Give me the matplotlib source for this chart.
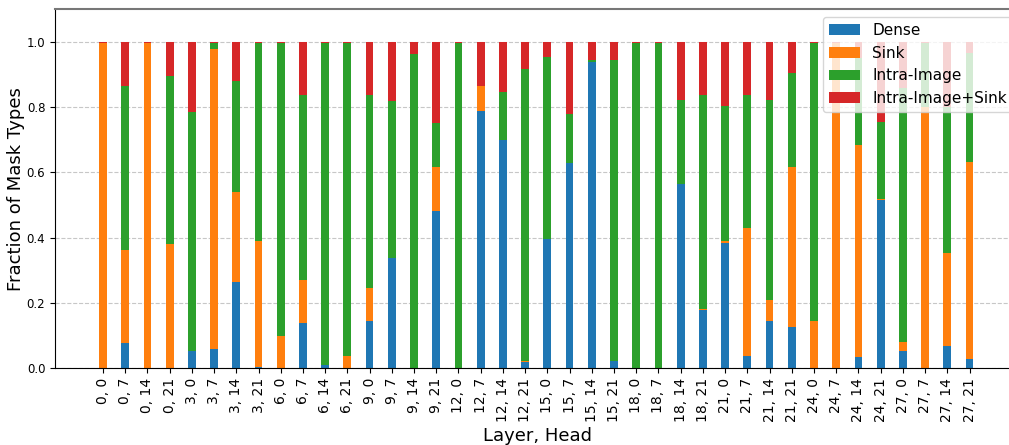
import numpy as np
import matplotlib
matplotlib.use('Agg')
import matplotlib.pyplot as plt

# (layer, head) pairs
layers = [0, 0, 0, 0, 3, 3, 3, 3, 6, 6, 6, 6, 9, 9, 9, 9, 12, 12, 12, 12,
          15, 15, 15, 15, 18, 18, 18, 18, 21, 21, 21, 21, 24, 24, 24, 24, 27, 27, 27, 27]
heads = [0, 7, 14, 21] * 10

# fraction of each mask type
dense = [0.000, 0.078, 0.000, 0.000, 0.052, 0.058, 0.265, 0.003, 0.000, 0.138,
         0.010, 0.000, 0.144, 0.338, 0.000, 0.482, 0.000, 0.788, 0.700, 0.019,
         0.395, 0.629, 0.940, 0.021, 0.000, 0.000, 0.565, 0.179, 0.384, 0.038,
         0.144, 0.126, 0.000, 0.000, 0.034, 0.516, 0.052, 0.000, 0.069, 0.028]
sink = [0.997, 0.284, 0.997, 0.381, 0.000, 0.921, 0.275, 0.388, 0.099, 0.133,
        0.000, 0.038, 0.102, 0.000, 0.000, 0.136, 0.000, 0.077, 0.000, 0.002,
        0.000, 0.000, 0.000, 0.000, 0.000, 0.000, 0.000, 0.003, 0.005, 0.392,
        0.066, 0.489, 0.144, 0.997, 0.650, 0.003, 0.029, 0.800, 0.284, 0.604]
intra = [0.000, 0.504, 0.000, 0.516, 0.734, 0.018, 0.340, 0.606, 0.898, 0.566,
         0.987, 0.959, 0.591, 0.481, 0.963, 0.134, 0.997, 0.000, 0.147, 0.896,
         0.559, 0.151, 0.006, 0.925, 0.997, 0.997, 0.258, 0.655, 0.415, 0.407,
         0.613, 0.290, 0.853, 0.000, 0.267, 0.237, 0.778, 0.197, 0.447, 0.334]
intra_sink = [0.003, 0.134, 0.003, 0.103, 0.214, 0.003, 0.120, 0.003, 0.003, 0.163,
              0.003, 0.003, 0.163, 0.181, 0.037, 0.248, 0.003, 0.135, 0.153, 0.083,
              0.046, 0.220, 0.054, 0.054, 0.003, 0.003, 0.177, 0.163, 0.196, 0.163,
              0.177, 0.095, 0.003, 0.003, 0.049, 0.244, 0.141, 0.003, 0.200, 0.034]

labels = ["%d, %d" % (l, h) for l, h in zip(layers, heads)]
x = np.arange(len(labels))
width = 0.35

fig = plt.figure(figsize=(10.09, 4.45), dpi=100)
ax = fig.add_axes([0.0545, 0.173, 0.957, 0.806])

# stacked bars: Dense -> Sink -> Intra-Image -> Intra-Image+Sink
bottom = np.zeros(len(labels))
series = [(dense, 'Dense', 'tab:blue'), (sink, 'Sink', 'tab:orange'),
          (intra, 'Intra-Image', 'tab:green'), (intra_sink, 'Intra-Image+Sink', 'tab:red')]
for vals, name, col in series:
    vals = np.array(vals)
    ax.bar(x, vals, width, bottom=bottom, label=name, color=col)
    bottom += vals

ax.set_xticks(x)
ax.set_xticklabels(labels, rotation=90, fontsize=10)
ax.set_yticks(np.arange(0, 1.01, 0.2))
ax.tick_params(axis='y', labelsize=8.5)
ax.set_xlim(-2.16, 41.3)
ax.set_ylim(0, 1.1)
ax.set_xlabel("Layer, Head", fontsize=13, labelpad=4)
ax.set_ylabel("Fraction of Mask Types", fontsize=13, labelpad=1.5)
ax.yaxis.grid(True, linestyle='--', alpha=0.7)
ax.set_axisbelow(True)
ax.spines['top'].set_color('#777777')
ax.spines['top'].set_linewidth(1.5)
ax.legend(loc='upper right', fontsize=11)

plt.savefig('out.png', dpi=100)
